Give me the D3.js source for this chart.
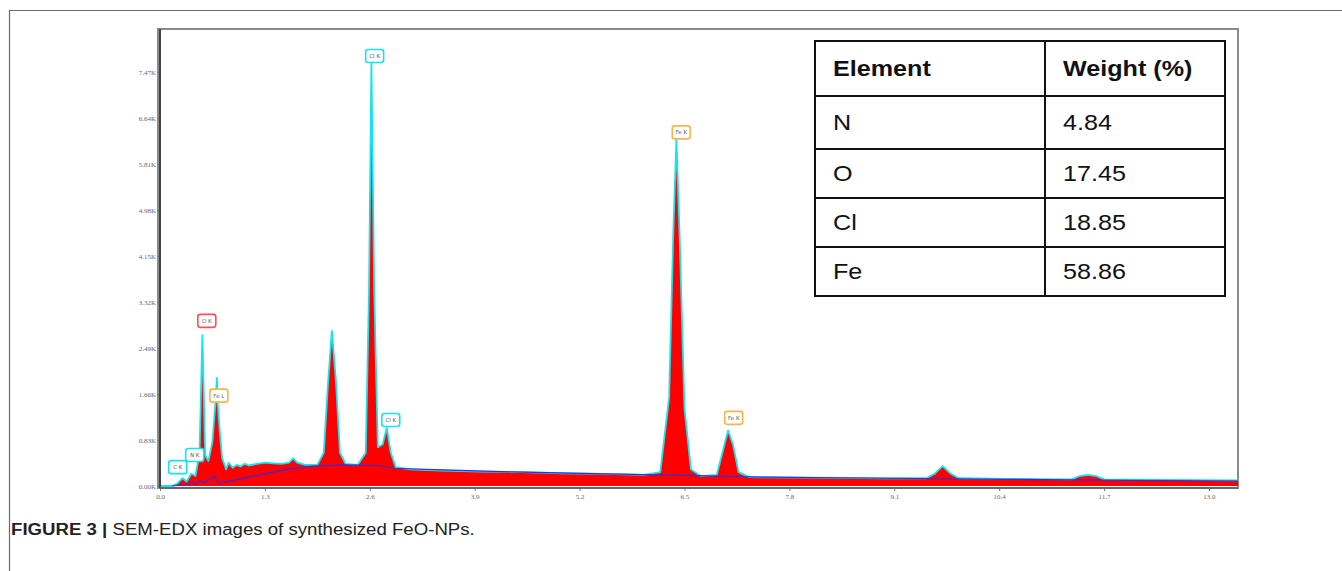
<!DOCTYPE html>
<html>
<head>
<meta charset="utf-8">
<script src="https://cdn.jsdelivr.net/npm/d3@7"></script>
<style>
  body { margin: 0; background: #fff; }
  svg { display: block; }
</style>
</head>
<body>
<svg id="fig" width="1342" height="571"></svg>
<script>
// eixos
const xTicks = [0.0, 1.3, 2.6, 3.9, 5.2, 6.5, 7.8, 9.1, 10.4, 11.7, 13.0];
const yTicks = [0.00, 0.83, 1.66, 2.49, 3.32, 4.15, 4.98, 5.81, 6.64, 7.47];

// espectro (keV, contagens em K)
const energy = [0.0, 0.15, 0.22, 0.28, 0.33, 0.39, 0.44, 0.49, 0.525, 0.56, 0.6, 0.65, 0.69, 0.705, 0.715, 0.74, 0.77, 0.82, 0.85, 0.9, 0.95,
  1.0, 1.05, 1.1, 1.2, 1.3, 1.4, 1.5, 1.6, 1.65, 1.7, 1.8, 1.95, 2.03, 2.08, 2.13, 2.18, 2.23, 2.3, 2.45, 2.55, 2.59, 2.62, 2.655,
  2.7, 2.76, 2.81, 2.86, 2.92, 3.1, 3.5, 4.0, 4.5, 5.0, 5.5, 6.0, 6.2, 6.31, 6.36, 6.40, 6.44, 6.5, 6.58, 6.7, 6.9, 6.97, 7.04,
  7.1, 7.17, 7.3, 8.0, 9.0, 9.5, 9.6, 9.7, 9.8, 9.9, 10.5, 11.3, 11.4, 11.5, 11.6, 11.7, 12.5, 13.36];
const counts = [0, 0, 0.05, 0.14, 0.08, 0.22, 0.18, 0.6, 2.72, 0.55, 0.45, 0.8, 1.55, 1.95, 1.5, 1.0, 0.5, 0.3, 0.42, 0.33, 0.38,
  0.35, 0.4, 0.37, 0.4, 0.42, 0.41, 0.4, 0.42, 0.5, 0.42, 0.38, 0.38, 0.6, 1.8, 2.8, 1.9, 0.6, 0.4, 0.38, 0.6, 3.5, 7.65, 3.5,
  0.7, 0.75, 1.05, 0.6, 0.34, 0.3, 0.28, 0.26, 0.25, 0.23, 0.22, 0.2, 0.25, 1.6, 4.5, 6.25, 4.5, 1.4, 0.3, 0.18, 0.2, 0.6, 1.0,
  0.75, 0.25, 0.16, 0.15, 0.14, 0.14, 0.22, 0.36, 0.22, 0.14, 0.13, 0.12, 0.18, 0.2, 0.18, 0.12, 0.11, 0.1];

// fundo (linha azul)
const bgEnergy = [0.15, 0.3, 0.4, 0.45, 0.5, 0.55, 0.62, 0.68, 0.72, 0.8, 1.0, 1.3, 1.6, 1.9, 2.3, 2.7, 2.9, 3.5, 4.5, 5.5, 6.5, 7.5, 9.0, 10.5, 12.0, 13.36];
const bgCounts = [0, 0.02, 0.07, 0.04, 0.1, 0.06, 0.13, 0.18, 0.05, 0.07, 0.13, 0.22, 0.31, 0.36, 0.38, 0.37, 0.32, 0.29, 0.25, 0.22, 0.19, 0.16, 0.14, 0.12, 0.1, 0.09];

// rótulos dos picos
const peakNames = ["C K", "N K", "O K", "Fe L", "Cl K", "Cl K", "Fe K", "Fe K"];
const peakEnergy = [0.22, 0.43, 0.58, 0.73, 2.66, 2.86, 6.46, 7.11];
const peakLabelK = [0.34, 0.56, 2.98, 1.63, 7.76, 1.19, 6.38, 1.23];
const peakKind = ["cl", "cl", "o", "fe", "cl", "cl", "fe", "fe"];

// tabela
const elements = ["N", "O", "Cl", "Fe"];
const weights = ["4.84", "17.45", "18.85", "58.86"];

const kindColor = (k) => {
  switch (k) {
    case "o": return "#ff4d5e";
    case "fe": return "#f5b54a";
    default: return "#14e4ee";
  }
};

const svg = d3.select("#fig");

// moldura externa da figura
svg.append("path")
  .attr("d", "M9.5,571 L9.5,10.5 L1342,10.5")
  .attr("fill", "none")
  .attr("stroke", "#6b6b6b")
  .attr("stroke-width", 1.2);

const plotLeft = 160, plotRight = 1238, plotTop = 29, plotBottom = 488;
const x = d3.scaleLinear().domain([0, 13.36]).range([plotLeft, plotRight]);
const y = d3.scaleLinear().domain([0, 7.47]).range([486, 72]);

// moldura do gráfico
svg.append("rect")
  .attr("x", plotLeft - 2).attr("y", plotTop)
  .attr("width", plotRight - plotLeft + 2).attr("height", plotBottom - plotTop)
  .attr("fill", "#fff")
  .attr("stroke", "#8a8a8a")
  .attr("stroke-width", 2);

const spec = energy.map((e, i) => [e, counts[i]]);
const bg = bgEnergy.map((e, i) => [e, bgCounts[i]]);

const g = svg.append("g");

g.append("path")
  .datum(spec)
  .attr("fill", "#ff0000")
  .attr("d", d3.area().x(d => x(d[0])).y0(y(0)).y1(d => y(d[1])));

g.append("path")
  .datum(spec)
  .attr("fill", "none")
  .attr("stroke", "#14e4ee")
  .attr("stroke-width", 1.8)
  .attr("stroke-linejoin", "round")
  .attr("d", d3.line().x(d => x(d[0])).y(d => y(d[1])));

g.append("path")
  .datum(bg)
  .attr("fill", "none")
  .attr("stroke", "#3a2bd6")
  .attr("stroke-width", 1.2)
  .attr("d", d3.line().x(d => x(d[0])).y(d => y(d[1])));

// rótulos dos picos
const labels = g.selectAll("g.peak")
  .data(peakNames.map((n, i) => ({ n, e: peakEnergy[i], k: peakLabelK[i], kind: peakKind[i] })))
  .enter().append("g")
  .attr("class", "peak")
  .attr("transform", d => `translate(${x(d.e)},${y(d.k)})`);

labels.append("rect")
  .attr("x", -9).attr("y", -6.5)
  .attr("width", 18).attr("height", 13)
  .attr("rx", 2.5)
  .attr("fill", "#fff")
  .attr("stroke", d => kindColor(d.kind))
  .attr("stroke-width", 1.6);

labels.append("text")
  .attr("text-anchor", "middle")
  .attr("dy", "0.35em")
  .attr("font-family", "DejaVu Sans, sans-serif")
  .attr("font-size", 5.5)
  .attr("fill", "#555")
  .text(d => d.n);

// eixos
const yAxis = svg.append("g")
  .attr("transform", `translate(${plotLeft},0)`)
  .call(d3.axisLeft(y).tickValues(yTicks).tickFormat(d => d.toFixed(2) + "K").tickSize(3).tickPadding(1));
const xAxis = svg.append("g")
  .attr("transform", `translate(0,${plotBottom})`)
  .call(d3.axisBottom(x).tickValues(xTicks).tickFormat(d => d.toFixed(1)).tickSize(3).tickPadding(3));

[yAxis, xAxis].forEach(a => {
  a.select(".domain").remove();
  a.selectAll("line").attr("stroke", "#777");
  a.selectAll("text")
    .attr("font-family", "Liberation Serif, serif")
    .attr("font-size", 7)
    .attr("fill", "#666");
});

svg.append("line")
  .attr("x1", plotLeft).attr("x2", plotLeft)
  .attr("y1", plotTop).attr("y2", plotBottom)
  .attr("stroke", "#444").attr("stroke-width", 2);
svg.append("line")
  .attr("x1", plotLeft).attr("x2", plotRight)
  .attr("y1", plotBottom).attr("y2", plotBottom)
  .attr("stroke", "#666").attr("stroke-width", 2);

// tabela
const tx = 815, tw = 410, colX = 1045;
const rowH = [55, 53, 49, 49, 49];
const rowY = [41];
rowH.forEach((h, i) => rowY.push(rowY[i] + h));

const table = svg.append("g");
const rows = [["Element", "Weight (%)"]].concat(elements.map((e, i) => [e, weights[i]]));

table.selectAll("rect")
  .data(rows)
  .enter().append("rect")
  .attr("x", tx).attr("y", (d, i) => rowY[i])
  .attr("width", tw).attr("height", (d, i) => rowH[i])
  .attr("fill", "#fff")
  .attr("stroke", "#111")
  .attr("stroke-width", 2);

table.append("line")
  .attr("x1", colX).attr("x2", colX)
  .attr("y1", rowY[0]).attr("y2", rowY[rowY.length - 1])
  .attr("stroke", "#111").attr("stroke-width", 2);

// texto da imagem original está esticado na horizontal
const stretch = 1.17;
rows.forEach((r, i) => {
  const cy = rowY[i] + rowH[i] / 2;
  r.forEach((t, j) => {
    const tg = table.append("g")
      .attr("transform", `translate(${j === 0 ? 833 : 1063},${cy}) scale(${stretch},1)`);
    tg.append("text")
      .attr("dy", "0.35em")
      .attr("font-family", "Liberation Sans, Arial, sans-serif")
      .attr("font-size", 21.5)
      .attr("font-weight", i === 0 ? "bold" : "normal")
      .attr("fill", "#111")
      .text(t);
  });
});

// legenda
const capG = svg.append("g");
const cap = capG.append("text")
  .attr("font-family", "Liberation Sans, Arial, sans-serif")
  .attr("font-size", 17)
  .attr("fill", "#222");
cap.append("tspan").attr("font-weight", "bold").text("FIGURE 3 | ");
cap.append("tspan").text("SEM-EDX images of synthesized FeO-NPs.");
const capW = cap.node().getComputedTextLength();
capG.attr("transform", `translate(11,535) scale(${464 / capW},1)`);
</script>
</body>
</html>
